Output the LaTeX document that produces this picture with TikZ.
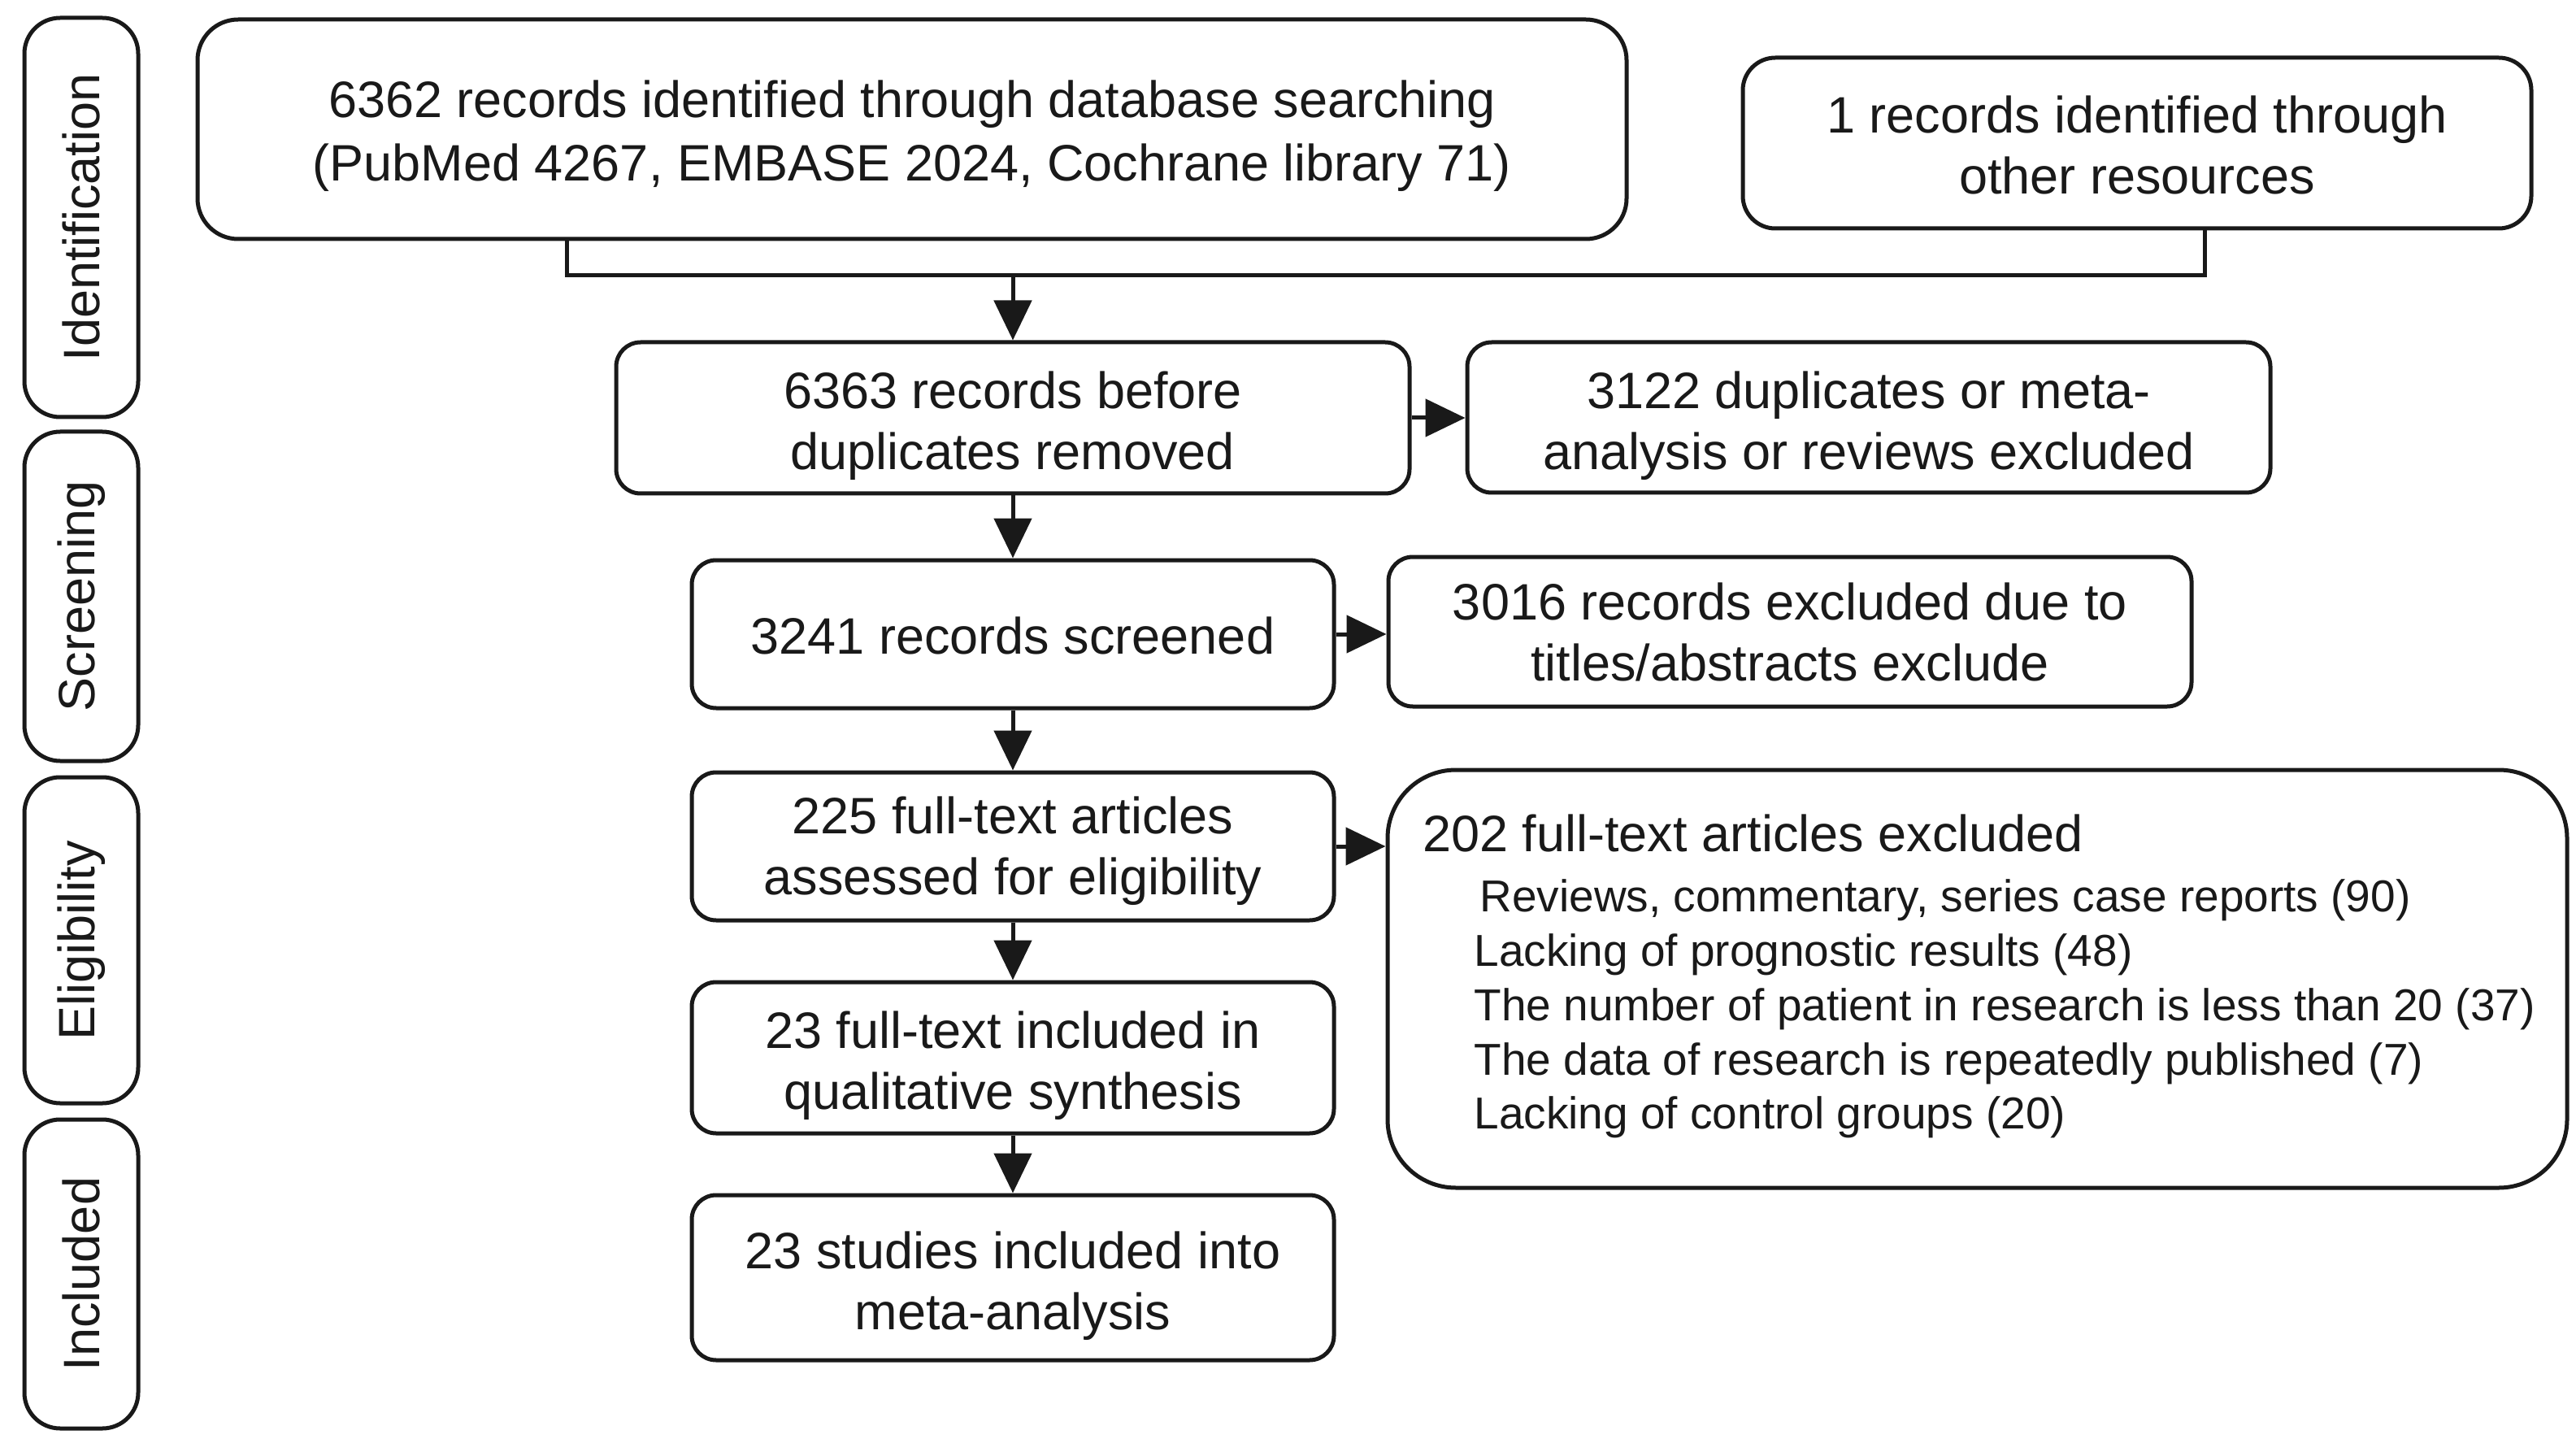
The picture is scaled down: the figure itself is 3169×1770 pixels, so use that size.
\documentclass[tikz,border=0pt]{standalone}
\usepackage{fontspec}
\setmainfont{Liberation Sans}
\usetikzlibrary{arrows.meta}
\definecolor{ink}{rgb}{0.1,0.1,0.1}
\newcommand\mainsz{\fontsize{31.5pt}{37.5pt}\selectfont}
\newcommand\itemsz{\fontsize{27.5pt}{33.5pt}\selectfont}
\begin{document}
\begin{tikzpicture}[x=0.5pt,y=-0.5pt,
  box/.style={draw=ink, line width=2.5pt, rounded corners=15pt, inner sep=0pt, align=center, text=ink, font=\mainsz},
  stagebox/.style={box, rounded corners=22pt, rotate=90, minimum height=70pt},
  boxtext/.style={inner sep=0pt, align=center, text=ink, font=\mainsz},
  arr/.style={draw=ink, line width=2.5pt, -{Triangle[length=24.5pt,width=23pt]}},
  conn/.style={draw=ink, line width=2.5pt},
  txt/.style={anchor=base west, inner sep=0pt, text=ink}]
\useasboundingbox (0,0) rectangle (3169,1770);

% stage labels
\node[stagebox, minimum width=245.5pt] (sI) at (100,267.5) {Identification};
\node[stagebox, minimum width=202.5pt] (sS) at (100,733.5) {Screening};
\node[stagebox, minimum width=200.5pt] (sE) at (100,1156.5) {Eligibility};
\node[stagebox, minimum width=190pt] (sN) at (100,1567) {Included};

% main boxes
\node[box, rounded corners=25pt, minimum width=879pt, minimum height=135pt] (A) at (1122,159) {};
\node[box, rounded corners=20pt, minimum width=485pt, minimum height=105pt] (B) at (2629,176) {};
\node[box, minimum width=488pt, minimum height=93pt] (C) at (1246,514) {};
\node[box, minimum width=494pt, minimum height=92.5pt] (D) at (2299,513.5) {};
\node[box, minimum width=395pt, minimum height=91pt] (E) at (1246,780) {};
\node[box, minimum width=494pt, minimum height=92pt] (F) at (2202,777) {};
\node[box, minimum width=395pt, minimum height=91pt] (G) at (1246,1041) {};
\node[box, rounded corners=42pt, minimum width=725.5pt, minimum height=257pt] (H) at (2432.5,1204) {};
\node[box, minimum width=395pt, minimum height=93pt] (I) at (1246,1301) {};
\node[box, minimum width=395pt, minimum height=101.5pt] (J) at (1246,1571.5) {};

% box texts
\node[boxtext] (At) at ([yshift=-4pt]A.center)
  {6362 records identified through database searching\\[1.5pt](PubMed 4267, EMBASE 2024, Cochrane library 71)};
\node[boxtext] (Bt) at ([yshift=-1pt]B.center) {1 records identified through\\other resources};
\node[boxtext] (Ct) at ([yshift=-5pt]C.center) {6363 records before\\duplicates removed};
\node[boxtext] (Dt) at ([yshift=-5pt]D.center) {3122 duplicates or meta-\\analysis or reviews excluded};
\node[boxtext] (Et) at ([yshift=-1pt]E.center) {3241 records screened};
\node[boxtext] (Ft) at (F.center) {3016 records excluded due to\\titles/abstracts exclude};
\node[boxtext] (Gt) at ([yshift=-3pt]G.center) {225 full-text articles\\assessed for eligibility};
\node[boxtext] (It) at ([yshift=-5pt]I.center) {23 full-text included in\\qualitative synthesis};
\node[boxtext] (Jt) at ([yshift=-5pt]J.center) {23 studies included into\\meta-analysis};

% texts of the exclusion box
\node[txt, font=\mainsz] (h0) at (1750,1047) {202 full-text articles excluded};
\node[txt, font=\itemsz] (h1) at (1820,1121) {Reviews, commentary, series case reports (90)};
\node[txt, font=\itemsz] (h2) at (1813,1188) {Lacking of prognostic results (48)};
\node[txt, font=\itemsz] (h3) at (1813,1255) {The number of patient in research is less than 20 (37)};
\node[txt, font=\itemsz] (h4) at (1813,1322) {The data of research is repeatedly published (7)};
\node[txt, font=\itemsz] (h5) at (1813,1388) {Lacking of control groups (20)};

% connectors
\coordinate (aL) at (697,339);
\coordinate (bR) at (2712,339);
\coordinate (jn) at (1246,339);
\draw[conn] (A.south -| aL) -- (aL) -- (bR) -- (B.south -| bR);
\draw[arr] (jn) -- (C.north);
\draw[arr] (C.south) -- (E.north);
\draw[arr] (E.south) -- (G.north);
\draw[arr] (G.south) -- (I.north);
\draw[arr] (I.south) -- (J.north);
\draw[arr] (C.east) -- (C.east -| D.west);
\draw[arr] (E.east) -- (E.east -| F.west);
\draw[arr] (G.east) -- (G.east -| H.west);
\end{tikzpicture}
\end{document}
